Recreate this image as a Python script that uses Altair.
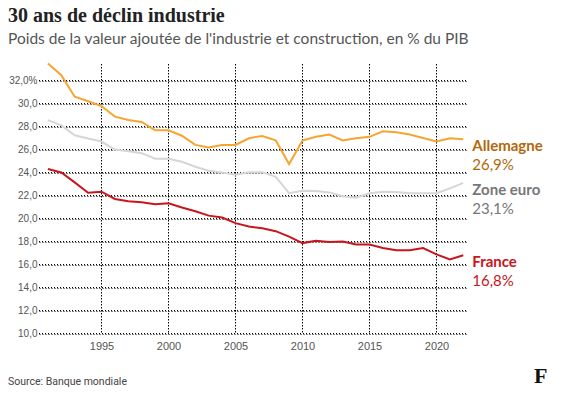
import altair as alt
import pandas as pd

years = list(range(1991, 2023))
allemagne = [33.47, 32.46, 30.59, 30.2, 29.78, 28.86, 28.56, 28.39, 27.67, 27.67,
             27.2, 26.4, 26.17, 26.4, 26.4, 26.98, 27.18, 26.8, 24.73, 26.78,
             27.1, 27.3, 26.78, 26.98, 27.1, 27.58, 27.5, 27.3, 27.0, 26.69,
             26.98, 26.9]
zone_euro = [28.56, 28.1, 27.24, 26.95, 26.69, 26.0, 25.85, 25.68, 25.2, 25.2,
             24.93, 24.5, 24.15, 24.0, 23.8, 24.03, 24.03, 23.63, 22.2, 22.42,
             22.4, 22.27, 21.93, 21.8, 22.2, 22.33, 22.3, 22.2, 22.2, 22.2,
             22.62, 23.1]
france = [24.3, 24.0, 23.14, 22.24, 22.33, 21.7, 21.5, 21.41, 21.24, 21.33,
          20.95, 20.63, 20.25, 20.08, 19.6, 19.3, 19.16, 18.9, 18.43, 17.86,
          18.06, 17.95, 18.0, 17.74, 17.74, 17.43, 17.23, 17.23, 17.43, 16.88,
          16.44, 16.8]

pays = ["Allemagne", "Zone euro", "France"]
line_colors = ["#F7A531", "#D6D6D6", "#C8161E"]
label_colors = ["#B0690A", "#777777", "#C8161E"]
y_ticks = [10, 12, 14, 16, 18, 20, 22, 24, 26, 28, 30, 32]
x_ticks = [1995, 2000, 2005, 2010, 2015, 2020]

title = "30 ans de déclin industrie"
subtitle = "Poids de la valeur ajoutée de l'industrie et construction, en % du PIB"
source = "Source: Banque mondiale"

series = {"Allemagne": allemagne, "Zone euro": zone_euro, "France": france}
df = pd.DataFrame(
    [{"pays": p, "year": y, "value": v} for p in pays for y, v in zip(years, series[p])]
)
last = pd.DataFrame(
    [{"pays": p, "year": years[-1], "value": series[p][-1],
      "vlabel": f"{series[p][-1]:.1f}".replace(".", ",") + "%"} for p in pays]
)
ygrid = pd.DataFrame({"value": y_ticks})
xgrid = pd.DataFrame({"year": x_ticks})

# 13.4 px per year, 11.5 px per point: grid lines fall on pixel centres
W, H = 428, 269.5
xscale = alt.Scale(domain=[1995 - 62.5 / 13.4, 1995 + (428 - 62.5) / 13.4], nice=False, zero=False)
yscale = alt.Scale(domain=[10, 10 + 269.5 / 11.5], nice=False, zero=False)

x_axis = alt.Axis(values=x_ticks, format="d", title=None, grid=True,
                  gridDash=[1, 2], gridColor="#000000", gridOpacity=1, gridWidth=1,
                  zindex=0,
                  domain=False, ticks=False, labelPadding=7,
                  labelFont="Liberation Sans", labelFontSize=11,
                  labelColor="#555", labelOverlap=False)
y_axis = alt.Axis(values=y_ticks, title=None, grid=True,
                  gridDash=[1, 2], gridColor="#000000", gridOpacity=1, gridWidth=1,
                  zindex=0,
                  domain=False, ticks=False, labelPadding=2,
                  labelFont="Liberation Sans", labelFontSize=10,
                  labelColor="#555", labelOverlap=False,
                  labelExpr="datum.value == 32 ? '32,0%' : replace(format(datum.value, '.1f'), '.', ',')")

def X():
    return alt.X("year:Q", scale=xscale, axis=x_axis)

def Y():
    return alt.Y("value:Q", scale=yscale, axis=y_axis)

hgrid = alt.Chart(ygrid).mark_rule(strokeDash=[1, 2], color="#000000", strokeWidth=1).encode(
    y=Y(), x=alt.value(0), x2=alt.value(W))
vgrid = alt.Chart(xgrid).mark_rule(strokeDash=[1, 2], color="#000000", strokeWidth=1).encode(
    x=X(), y=alt.value(0), y2=alt.value(H))

lines = alt.Chart(df).mark_line(strokeWidth=2).encode(
    x=X(), y=Y(),
    color=alt.Color("pays:N", scale=alt.Scale(domain=pays, range=line_colors), legend=None),
    detail="pays:N",
)

name_labels = alt.Chart(last).mark_text(align="left", baseline="middle", dx=9, dy=7,
                                        font="Lato", fontSize=15, fontWeight="bold").encode(
    x=X(), y=Y(), text="pays:N",
    color=alt.Color("pays:N", scale=alt.Scale(domain=pays, range=label_colors), legend=None),
)
value_labels = alt.Chart(last).mark_text(align="left", baseline="middle", dx=9, dy=26,
                                         font="Lato", fontSize=15).encode(
    x=X(), y=Y(), text="vlabel:N",
    color=alt.Color("pays:N", scale=alt.Scale(domain=pays, range=label_colors), legend=None),
)

def note(txt, x, y, **kw):
    return alt.Chart(pd.DataFrame({"t": [txt]})).mark_text(align="left", baseline="alphabetic", **kw).encode(
        text="t:N", x=alt.value(x), y=alt.value(y))

t1 = note(title, -31, -42, font="Liberation Serif", fontSize=20, fontWeight="bold", color="#222")
t2 = note(subtitle, -31, -20, font="Lato", fontSize=15.5, color="#555")
t3 = note(source, -31, 321, font="Roboto", fontSize=10.5, color="#444")
logo = note("F", 495, 319, font="Liberation Serif", fontSize=22, fontWeight="bold", color="#111")

chart = alt.layer(hgrid, vgrid, lines, name_labels, value_labels, t1, t2, t3, logo).resolve_scale(
    color="independent"
).properties(
    width=W, height=H,
    autosize=alt.AutoSizeParams(type="none"),
    padding={"left": 31, "top": 56, "right": 90, "bottom": 55.5},
).configure_view(stroke=None)

chart.save("out.html", embed_options={"renderer": "svg", "actions": False})
